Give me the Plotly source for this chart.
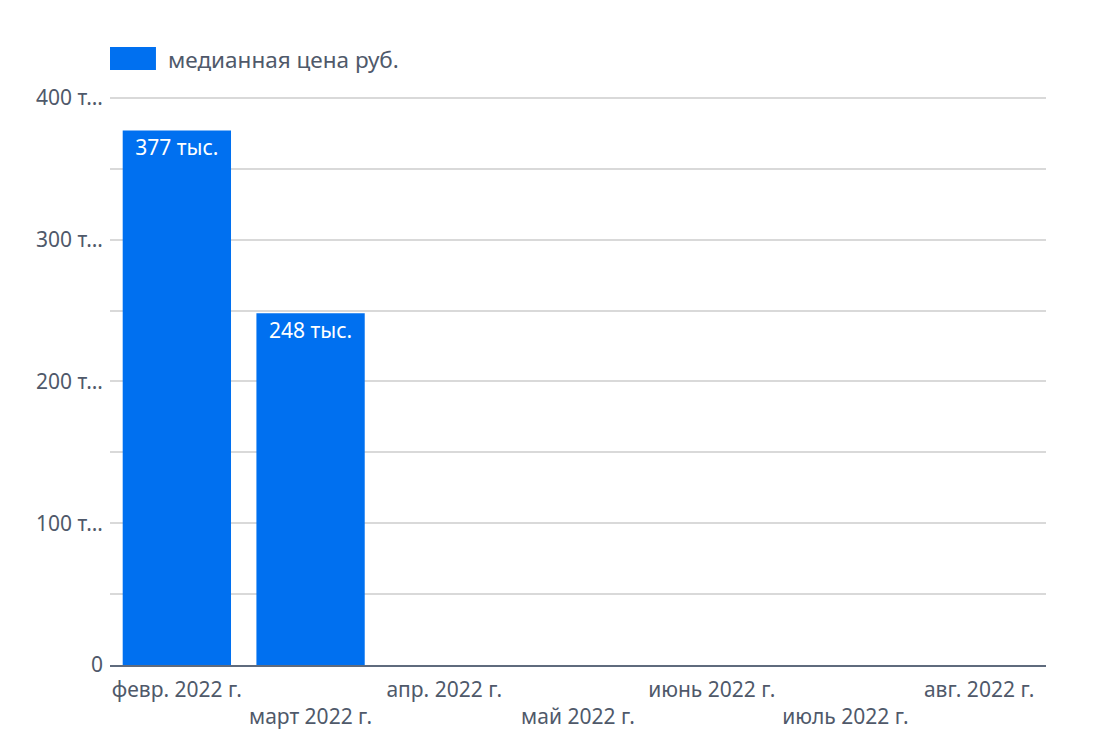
import plotly.graph_objects as go

categories = ["февр. 2022 г.", "март 2022 г.", "апр. 2022 г.", "май 2022 г.",
              "июнь 2022 г.", "июль 2022 г.", "авг. 2022 г."]
values = [377000, 248000, None, None, None, None, None]
value_labels = ["377 тыс.", "248 тыс.", "", "", "", "", ""]
y_tickvals = [0, 50000, 100000, 150000, 200000, 250000, 300000, 350000, 400000]
y_ticktext = ["0", "", "100 т…", "", "200 т…", "", "300 т…", "", "400 т…"]
series_name = "медианная цена руб."

x_ticktext = [c if i % 2 == 0 else "<br>" + c for i, c in enumerate(categories)]

font_family = "Noto Sans, Open Sans, sans-serif"
text_color = "#4f596a"
bar_color = "#0070f0"

fig = go.Figure()
fig.add_trace(go.Bar(
    x=categories,
    y=values,
    name=series_name,
    marker=dict(color=bar_color, line=dict(width=0)),
    text=value_labels,
    textposition="inside",
    insidetextanchor="end",
    textfont=dict(color="white", size=21, family=font_family),
    showlegend=False,
))

# legend swatch + label (drawn as layout decoration)
# plot area: 570 px tall, bottom at screen y=665
fig.add_shape(type="rect", xref="paper", yref="paper",
              x0=0, x1=0.0491, y0=(665 - 70) / 570, y1=(665 - 47) / 570,
              fillcolor=bar_color, line=dict(width=0))
fig.add_annotation(xref="paper", yref="paper", x=0.0598, y=(665 - 59) / 570,
                   xanchor="left", yanchor="middle", showarrow=False,
                   text=series_name,
                   font=dict(size=22.5, color=text_color, family=font_family))

fig.update_layout(
    width=1110,
    height=747,
    paper_bgcolor="white",
    plot_bgcolor="white",
    margin=dict(l=102, r=72, t=87, b=90),
    bargap=0.19,
    font=dict(family=font_family, color=text_color, size=21),
    showlegend=False,
    xaxis=dict(
        type="category",
        categoryorder="array",
        categoryarray=categories,
        tickmode="array",
        tickvals=categories,
        ticktext=x_ticktext,
        tickangle=0,
        showgrid=False,
        showline=True,
        linecolor="#5f6b7d",
        linewidth=1.5,
        ticks="",
        ticklabelstandoff=5,
        tickfont=dict(size=21, color=text_color),
    ),
    yaxis=dict(
        range=[0, 402000],
        tickmode="array",
        tickvals=y_tickvals,
        ticktext=y_ticktext,
        showgrid=True,
        gridcolor="#d9d9d9",
        gridwidth=1.5,
        zeroline=False,
        showline=False,
        ticks="",
        ticklabelstandoff=6,
        tickfont=dict(size=21, color=text_color),
    ),
)

fig.write_html("out.html")
